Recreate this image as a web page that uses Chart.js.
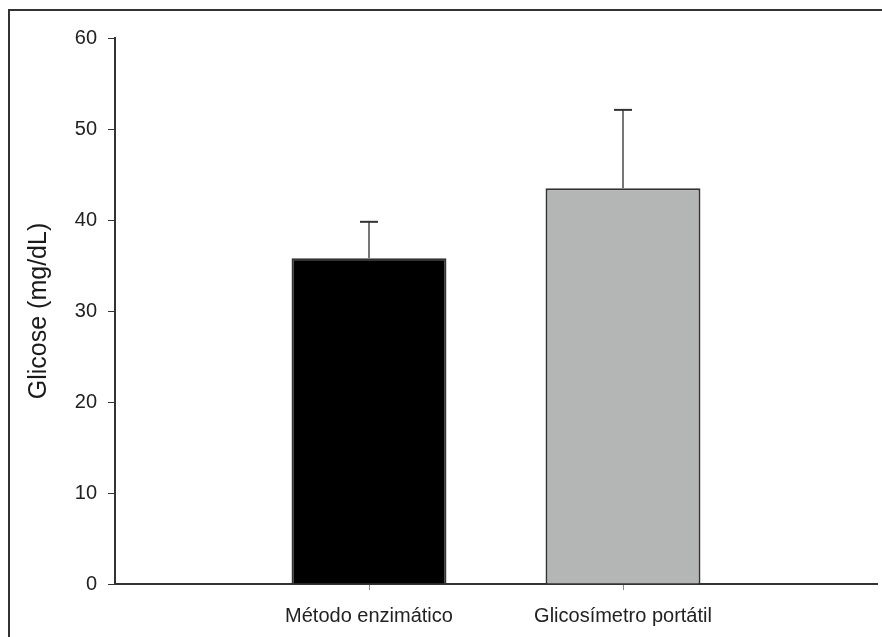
<!DOCTYPE html>
<html>
<head>
<meta charset="utf-8">
<script src="https://cdn.jsdelivr.net/npm/chart.js@4.4.0/dist/chart.umd.min.js"></script>
<style>
    body { margin: 0; background: #fff; }
    #wrap { position: relative; width: 882px; height: 637px; }
    #frame { position: absolute; left: 8px; top: 9px; right: 0; bottom: 0; border-left: 2px solid #333; border-top: 2px solid #333; }
    #chart { position: absolute; left: 0; top: 0; }
</style>
</head>
<body>
<div id="wrap">
    <div id="frame"></div>
    <canvas id="chart" width="882" height="637"></canvas>
</div>
<script>
const categories = ['Método enzimático', 'Glicosímetro portátil'];
const means = [35.8, 43.5];
const errors = [4.0, 8.6];
const yTicks = [0, 10, 20, 30, 40, 50, 60];
const barColors = ['#000000', '#b4b6b5'];

// empty slots on both ends so the two bars sit at 1/3 and 2/3 of the axis
const labels = ['', ...categories, ''];
const data = [null, ...means, null];
const errData = [null, ...errors, null];

const errorBars = {
    id: 'errorBars',
    afterDatasetsDraw(chart) {
        const ctx = chart.ctx;
        const yScale = chart.scales.y;
        const meta = chart.getDatasetMeta(0);
        meta.data.forEach((bar, i) => {
            if (data[i] == null) return;
            const top = yScale.getPixelForValue(data[i] + errData[i]);
            ctx.save();
            ctx.strokeStyle = '#777';
            ctx.lineWidth = 2;
            ctx.beginPath();
            ctx.moveTo(bar.x, bar.y);
            ctx.lineTo(bar.x, top);
            ctx.stroke();
            ctx.strokeStyle = '#333';
            ctx.beginPath();
            ctx.moveTo(bar.x - 9, top);
            ctx.lineTo(bar.x + 9, top);
            ctx.stroke();
            ctx.restore();
        });
    }
};

let ctx = document.getElementById('chart').getContext('2d');
let chart = new Chart(ctx, {
    type: 'bar',
    data: {
        labels: labels,
        datasets: [{
            data: data,
            backgroundColor: ['transparent', ...barColors, 'transparent'],
            borderColor: '#333',
            borderWidth: 2,
            borderSkipped: 'bottom',
            barPercentage: 0.61,
            categoryPercentage: 1
        }]
    },
    options: {
        responsive: false,
        animation: false,
        layout: { padding: { top: 38, right: 5, bottom: 0, left: 0 } },
        plugins: {
            legend: { display: false },
            tooltip: { enabled: false }
        },
        scales: {
            x: {
                offset: false,
                afterFit: s => { s.height = 53; s.paddingLeft = 0; s.paddingRight = 0; },
                grid: {
                    offset: false,
                    drawOnChartArea: false,
                    tickLength: 6,
                    tickColor: c => (labels[c.index] ? '#888' : 'transparent')
                },
                border: { color: '#333', width: 2 },
                ticks: {
                    padding: 14,
                    color: '#222',
                    font: { family: 'Liberation Sans', size: 20 }
                }
            },
            y: {
                min: 0,
                max: 60,
                afterFit: s => { s.width = 115; },
                afterBuildTicks: s => { s.ticks = yTicks.map(v => ({ value: v })); },
                grid: { drawOnChartArea: false, tickLength: 7, tickColor: '#333' },
                border: { color: '#333', width: 2 },
                ticks: {
                    padding: 11,
                    color: '#222',
                    font: { family: 'Liberation Sans', size: 20 }
                },
                title: {
                    display: true,
                    text: 'Glicose (mg/dL)',
                    color: '#1a1a1a',
                    padding: { top: 24, bottom: 0 },
                    font: { family: 'Liberation Sans', size: 25 }
                }
            }
        }
    },
    plugins: [errorBars]
});
</script>
</body>
</html>
